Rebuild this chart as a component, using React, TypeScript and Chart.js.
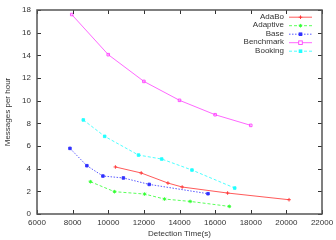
import React, { useEffect, useRef } from "react";
import { Chart, registerables } from "chart.js";

Chart.register(...registerables);

const seriesNames = ["AdaBo", "Adaptive", "Base", "Benchmark", "Booking"];

const adaboX = [10400, 11850, 13350, 14150, 16700, 20150];
const adaboY = [4.15, 3.62, 2.73, 2.38, 1.85, 1.26];

const adaptiveX = [9000, 10350, 12040, 13160, 14600, 16800];
const adaptiveY = [2.85, 1.97, 1.76, 1.32, 1.11, 0.67];

const baseX = [7850, 8800, 9700, 10850, 12300, 15600];
const baseY = [5.79, 4.26, 3.35, 3.18, 2.61, 1.79];

const benchmarkX = [7950, 10000, 12000, 14000, 16000, 18000];
const benchmarkY = [17.6, 14.06, 11.7, 10.03, 8.76, 7.82];

const bookingX = [8600, 9800, 11700, 13000, 14700, 17100];
const bookingY = [8.3, 6.85, 5.2, 4.85, 3.88, 2.29];

const xTicks = [6000, 8000, 10000, 12000, 14000, 16000, 18000, 20000, 22000];
const yTicks = [0, 2, 4, 6, 8, 10, 12, 14, 16, 18];

const xTitle = "Detection Time(s)";
const yTitle = "Messages per hour";

const FONT = "Liberation Sans, Arial, sans-serif";

const colors = ["#ff3030", "#30ff30", "#3030ff", "#ff40ff", "#20ffff"];
const dashes = [[], [3, 2], [1.5, 1.5], [], [3, 2]];
const points = ["cross", "star", "rect", "rect", "rect"];
const fills = [true, true, true, false, true];

function pts(xs: number[], ys: number[]) {
  return xs.map((x, i) => ({ x, y: ys[i] }));
}

export default function App() {
  const ref = useRef<HTMLCanvasElement | null>(null);
  useEffect(() => {
    if (!ref.current) return;
    const allX = [adaboX, adaptiveX, baseX, benchmarkX, bookingX];
    const allY = [adaboY, adaptiveY, baseY, benchmarkY, bookingY];
    const datasets = seriesNames.map((name, i) => ({
      label: name,
      data: pts(allX[i], allY[i]),
      borderColor: colors[i],
      backgroundColor: fills[i] ? colors[i] : "rgba(255,255,255,0)",
      pointBorderColor: colors[i],
      pointBackgroundColor: fills[i] ? colors[i] : "rgba(255,255,255,0)",
      borderWidth: 0.8,
      borderDash: dashes[i],
      pointStyle: points[i] as any,
      pointRadius: 1.8,
      pointBorderWidth: 0.9,
      showLine: true,
      tension: 0,
    }));

    const decor = {
      id: "decor",
      afterDraw(chart: any) {
        const ctx = chart.ctx as CanvasRenderingContext2D;
        const a = chart.chartArea;
        const xs = chart.scales.x;
        const ys = chart.scales.y;
        ctx.save();
        ctx.strokeStyle = "#333";
        ctx.lineWidth = 1;
        ctx.beginPath();
        xTicks.forEach((v) => {
          const px = Math.round(xs.getPixelForValue(v)) + 0.5;
          ctx.moveTo(px, a.bottom);
          ctx.lineTo(px, a.bottom - 4);
          ctx.moveTo(px, a.top);
          ctx.lineTo(px, a.top + 4);
        });
        yTicks.forEach((v) => {
          const py = Math.round(ys.getPixelForValue(v)) + 0.5;
          ctx.moveTo(a.left, py);
          ctx.lineTo(a.left + 4, py);
          ctx.moveTo(a.right, py);
          ctx.lineTo(a.right - 4, py);
        });
        ctx.stroke();
        ctx.strokeStyle = "#555";
        ctx.lineWidth = 1.5;
        ctx.strokeRect(a.left, a.top, a.right - a.left, a.bottom - a.top);
        ctx.fillStyle = "#333";
        ctx.font = "8px " + FONT;
        ctx.textAlign = "center";
        ctx.textBaseline = "middle";
        xTicks.forEach((v) => {
          ctx.fillText(String(v), xs.getPixelForValue(v), a.bottom + 9);
        });
        ctx.textAlign = "right";
        yTicks.forEach((v) => {
          ctx.fillText(String(v), a.left - 6, ys.getPixelForValue(v));
        });
        ctx.textAlign = "center";
        ctx.fillText(xTitle, (a.left + a.right) / 2, a.bottom + 19.5);
        ctx.save();
        ctx.translate(8, (a.top + a.bottom) / 2);
        ctx.rotate(-Math.PI / 2);
        ctx.fillText(yTitle, 0, 0);
        ctx.restore();
        seriesNames.forEach((name, i) => {
          const y = 16.7 + i * 8.5;
          ctx.fillStyle = "#333";
          ctx.textAlign = "right";
          ctx.fillText(name, 284, y);
          ctx.strokeStyle = colors[i];
          ctx.lineWidth = 0.8;
          ctx.setLineDash(dashes[i]);
          ctx.beginPath();
          ctx.moveTo(289, y + 0.5);
          ctx.lineTo(312, y + 0.5);
          ctx.stroke();
          ctx.setLineDash([]);
          const cx = 300.5;
          const cy = y + 0.5;
          const r = 1.8;
          ctx.lineWidth = 0.9;
          ctx.beginPath();
          if (points[i] === "cross") {
            ctx.moveTo(cx - r, cy);
            ctx.lineTo(cx + r, cy);
            ctx.moveTo(cx, cy - r);
            ctx.lineTo(cx, cy + r);
            ctx.stroke();
          } else if (points[i] === "star") {
            ctx.moveTo(cx - r, cy);
            ctx.lineTo(cx + r, cy);
            ctx.moveTo(cx, cy - r);
            ctx.lineTo(cx, cy + r);
            ctx.moveTo(cx - r * 0.7, cy - r * 0.7);
            ctx.lineTo(cx + r * 0.7, cy + r * 0.7);
            ctx.moveTo(cx - r * 0.7, cy + r * 0.7);
            ctx.lineTo(cx + r * 0.7, cy - r * 0.7);
            ctx.stroke();
          } else {
            if (fills[i]) {
              ctx.fillStyle = colors[i];
              ctx.fillRect(cx - r, cy - r, 2 * r, 2 * r);
            } else {
              ctx.fillStyle = "#fff";
              ctx.fillRect(cx - r, cy - r, 2 * r, 2 * r);
              ctx.strokeRect(cx - r, cy - r, 2 * r, 2 * r);
            }
          }
        });
        ctx.restore();
      },
    };

    const chart = new Chart(ref.current, {
      type: "scatter",
      data: { datasets: datasets as any },
      options: {
        animation: false,
        responsive: false,
        maintainAspectRatio: false,
        layout: { padding: { left: 0, right: 14, top: 10, bottom: 0 } },
        plugins: { legend: { display: false }, tooltip: { enabled: false } },
        scales: {
          x: {
            type: "linear",
            min: 6000,
            max: 22000,
            ticks: { display: false, stepSize: 2000 },
            grid: { display: false },
            border: { display: false },
            afterFit: (s: any) => {
              s.height = 26;
            },
          },
          y: {
            type: "linear",
            min: 0,
            max: 18,
            ticks: { display: false, stepSize: 2 },
            grid: { display: false },
            border: { display: false },
            afterFit: (s: any) => {
              s.width = 37;
            },
          },
        },
      },
      plugins: [decor],
    });
    return () => chart.destroy();
  }, []);
  return (
    <div style={{ position: "absolute", left: 0, top: 0, width: 336, height: 240, background: "#fff" }}>
      <canvas ref={ref} width={336} height={240} style={{ width: 336, height: 240 }} />
    </div>
  );
}
